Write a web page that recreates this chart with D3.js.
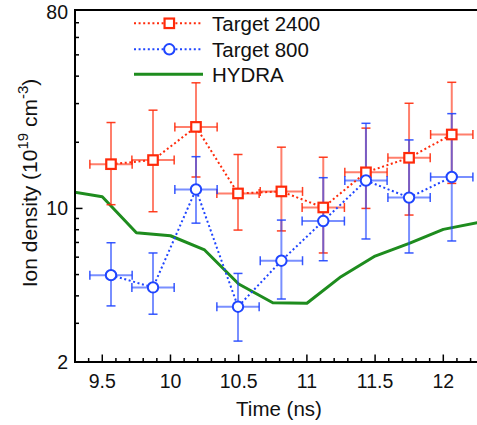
<!DOCTYPE html>
<html><head><meta charset="utf-8">
<script src="https://cdn.jsdelivr.net/npm/d3@7"></script>
<style>
body{margin:0;background:#fff;}
svg{display:block;font-family:"Liberation Sans",Arial,Helvetica,sans-serif;}
</style></head>
<body>
<svg id="chart" width="477" height="425"></svg>
<script>
// ---- data ----
const times = [9.564, 9.872, 10.187, 10.495, 10.813, 11.12, 11.433, 11.749, 12.062];
const xErr = 0.155;
const t2400 = [15.9, 16.6, 23.5, 11.7, 11.95, 10.1, 14.6, 17.0, 21.7];
const t2400Hi = [24.6, 28.0, 37.3, 17.6, 19.0, 17.1, 23.2, 30.1, 37.5];
const t2400Lo = [10.4, 9.66, 13.9, 7.97, 7.9, 6.27, 10.0, 9.33, 13.0];
const t800 = [4.97, 4.37, 12.2, 3.57, 5.78, 8.76, 13.4, 11.2, 13.9];
const t800Hi = [6.98, 6.27, 17.2, 5.06, 8.85, 13.8, 24.4, 20.5, 27.0];
const t800Lo = [3.60, 3.30, 8.57, 2.49, 3.87, 5.78, 7.26, 6.27, 7.11];
const hydraT = [9.25, 9.5, 9.75, 10.0, 10.25, 10.5, 10.75, 11.0, 11.25, 11.5, 11.75, 12.0, 12.25];
const hydraV = [12.0, 11.3, 7.75, 7.51, 6.47, 4.53, 3.72, 3.70, 4.89, 6.07, 6.93, 8.03, 8.61];
const xTickLabels = ["9.5", "10", "10.5", "11", "11.5", "12"];
const yTickLabels = ["2", "10", "80"];
const legendLabels = ["Target 2400", "Target 800", "HYDRA"];

// ---- layout ----
const W = 477, H = 425;
const L = 75, R = 477.4, T = 10, B = 362;
const RED = "#ff2a0a", BLUE = "#1f45ff", GREEN = "#1e8c1e";

const svg = d3.select("#chart");
const x = d3.scaleLinear().domain([9.3, 12.25]).range([L, R]);
const y = d3.scaleLog().domain([2, 80]).range([B, T]);

svg.append("defs").append("clipPath").attr("id", "clip")
  .append("rect").attr("x", L).attr("y", T).attr("width", W - L + 5).attr("height", B - T);

const plot = svg.append("g").attr("clip-path", "url(#clip)");

// HYDRA
plot.append("path")
  .datum(hydraT.map((t, i) => [t, hydraV[i]]))
  .attr("fill", "none").attr("stroke", GREEN).attr("stroke-width", 3)
  .attr("stroke-linejoin", "round")
  .attr("d", d3.line().x(d => x(d[0])).y(d => y(d[1])));

function errorBars(vals, hi, lo, color) {
  const g = plot.append("g").attr("stroke", color).attr("stroke-opacity", 0.6).attr("fill", "none");
  const cap = 4.5;
  times.forEach((t, i) => {
    const cx = x(t), cy = y(vals[i]);
    const x0 = x(t - xErr), x1 = x(t + xErr);
    const yh = y(hi[i]), yl = y(lo[i]);
    g.append("line").attr("x1", cx).attr("x2", cx).attr("y1", yh).attr("y2", yl).attr("stroke-width", 2);
    g.append("line").attr("x1", x0).attr("x2", x1).attr("y1", cy).attr("y2", cy).attr("stroke-width", 2);
    g.append("line").attr("x1", cx - cap).attr("x2", cx + cap).attr("y1", yh).attr("y2", yh).attr("stroke-width", 1.5).attr("stroke-opacity", 0.9);
    g.append("line").attr("x1", cx - cap).attr("x2", cx + cap).attr("y1", yl).attr("y2", yl).attr("stroke-width", 1.5).attr("stroke-opacity", 0.9);
    g.append("line").attr("x1", x0).attr("x2", x0).attr("y1", cy - cap).attr("y2", cy + cap).attr("stroke-width", 1.5).attr("stroke-opacity", 0.9);
    g.append("line").attr("x1", x1).attr("x2", x1).attr("y1", cy - cap).attr("y2", cy + cap).attr("stroke-width", 1.5).attr("stroke-opacity", 0.9);
  });
}
errorBars(t2400, t2400Hi, t2400Lo, RED);
errorBars(t800, t800Hi, t800Lo, BLUE);

const dotted = d3.line().x(d => x(d[0])).y(d => y(d[1]));
plot.append("path").datum(times.map((t, i) => [t, t2400[i]]))
  .attr("fill", "none").attr("stroke", RED).attr("stroke-width", 2)
  .attr("stroke-dasharray", "2,2.6").attr("d", dotted);
plot.append("path").datum(times.map((t, i) => [t, t800[i]]))
  .attr("fill", "none").attr("stroke", BLUE).attr("stroke-width", 2)
  .attr("stroke-dasharray", "2,2.6").attr("d", dotted);

// markers
const S = 9.5;
plot.selectAll(".sq").data(times).join("rect")
  .attr("x", (t) => x(t) - S / 2).attr("y", (t, i) => y(t2400[i]) - S / 2)
  .attr("width", S).attr("height", S)
  .attr("fill", "#fff").attr("stroke", RED).attr("stroke-width", 2.2);
plot.selectAll(".ci").data(times).join("circle")
  .attr("cx", t => x(t)).attr("cy", (t, i) => y(t800[i])).attr("r", 5.2)
  .attr("fill", "#fff").attr("stroke", BLUE).attr("stroke-width", 2);

// ---- axes ----
const axes = svg.append("g");
axes.append("line").attr("x1", L).attr("x2", L).attr("y1", T).attr("y2", B).attr("stroke", "#000").attr("stroke-width", 2);
axes.append("line").attr("x1", L - 1).attr("x2", W).attr("y1", B).attr("y2", B).attr("stroke", "#000").attr("stroke-width", 2);
axes.append("line").attr("x1", L - 1).attr("x2", W).attr("y1", T).attr("y2", T).attr("stroke", "#000").attr("stroke-width", 2);

// x ticks (inward)
const xMinor = d3.range(93, 123).map(v => v / 10);
axes.selectAll(".xt").data(xMinor).join("line")
  .attr("x1", d => x(d)).attr("x2", d => x(d))
  .attr("y1", B).attr("y2", d => (Math.round(d * 10) % 5 === 0) ? B - 7.5 : B - 4)
  .attr("stroke", "#000").attr("stroke-width", 1.5);
axes.selectAll(".xl").data(xTickLabels).join("text")
  .attr("x", d => x(+d)).attr("y", 388).attr("text-anchor", "middle")
  .attr("font-size", 19.5).attr("fill", "#111").text(d => d);

// y ticks (inward)
const yMinor = [2, 3, 4, 5, 6, 7, 8, 9, 10, 20, 30, 40, 50, 60, 70, 80];
axes.selectAll(".yt").data(yMinor).join("line")
  .attr("x1", L).attr("x2", d => (d === 10) ? L + 7.5 : L + 4)
  .attr("y1", d => y(d)).attr("y2", d => y(d))
  .attr("stroke", "#000").attr("stroke-width", 1.5);
axes.selectAll(".yl").data(yTickLabels).join("text")
  .attr("x", 68).attr("y", d => y(+d) + 7 + (d === "80" ? 2 : 0)).attr("text-anchor", "end")
  .attr("font-size", 19.5).attr("fill", "#111").text(d => d);

// axis titles
svg.append("text").attr("x", 279).attr("y", 416).attr("text-anchor", "middle")
  .attr("font-size", 20.5).attr("fill", "#111").text("Time (ns)");
const yt = svg.append("text").attr("transform", "translate(36.5,183) rotate(-90)")
  .attr("text-anchor", "middle").attr("font-size", 21).attr("fill", "#111");
yt.append("tspan").text("Ion density (10");
yt.append("tspan").attr("font-size", 15).attr("dy", -8.5).text("19");
yt.append("tspan").attr("dy", 8.5).text(" cm");
yt.append("tspan").attr("font-size", 15).attr("dy", -8.5).text("-3");
yt.append("tspan").attr("dy", 8.5).text(")");

// ---- legend ----
const rows = [23.3, 49.3, 74.3];
const lg = svg.append("g");
const lx0 = 134, lx1 = 203, lmx = 169.3;
lg.append("line").attr("x1", lx0).attr("x2", lx1).attr("y1", rows[0]).attr("y2", rows[0])
  .attr("stroke", RED).attr("stroke-width", 2).attr("stroke-dasharray", "2,2.6");
lg.append("rect").attr("x", lmx - S / 2).attr("y", rows[0] - S / 2).attr("width", S).attr("height", S)
  .attr("fill", "#fff").attr("stroke", RED).attr("stroke-width", 2.2);
lg.append("line").attr("x1", lx0).attr("x2", lx1).attr("y1", rows[1]).attr("y2", rows[1])
  .attr("stroke", BLUE).attr("stroke-width", 2).attr("stroke-dasharray", "2,2.6");
lg.append("circle").attr("cx", lmx).attr("cy", rows[1]).attr("r", 5.2)
  .attr("fill", "#fff").attr("stroke", BLUE).attr("stroke-width", 2);
lg.append("line").attr("x1", lx0).attr("x2", lx1).attr("y1", rows[2]).attr("y2", rows[2])
  .attr("stroke", GREEN).attr("stroke-width", 3);
lg.selectAll(".lt").data(legendLabels).join("text")
  .attr("x", 212).attr("y", (d, i) => rows[i] + 7.5).attr("font-size", 20.5).attr("fill", "#111").text(d => d);
</script>
</body></html>
